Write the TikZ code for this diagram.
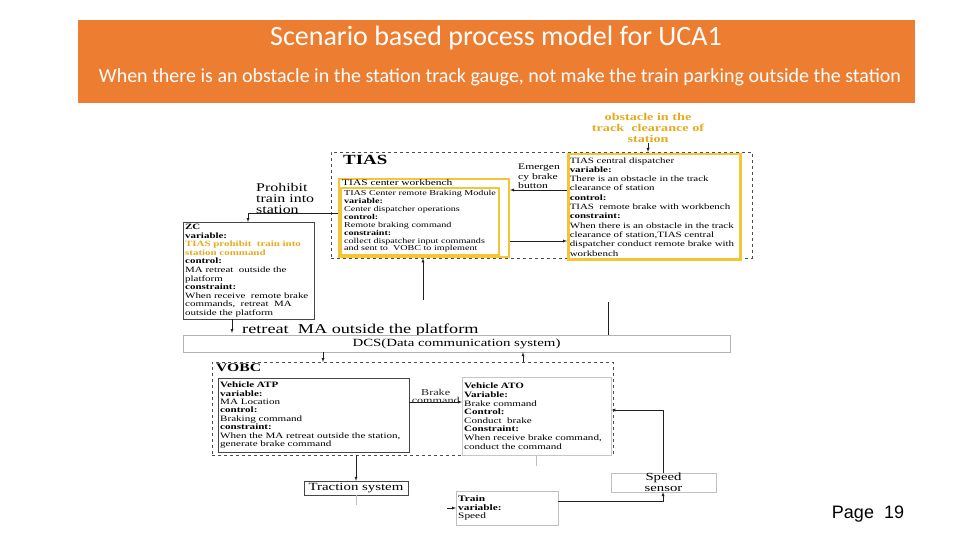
\documentclass[tikz,border=0pt]{standalone}
\usepackage{fontspec}
\setmainfont{Liberation Serif}[FakeStretch=1.35]
\newfontfamily\slidefont{Carlito}
\newfontfamily\pagefont{Liberation Sans}
\usetikzlibrary{positioning}

\definecolor{bannerorange}{HTML}{ED7D31}
\definecolor{boxyellow}{HTML}{F5C535}
\definecolor{goldtext}{HTML}{E8AA1C}

\begin{document}
\begin{tikzpicture}[x=1pt,y=-1pt]
\def\specfont{\fontsize{8.2}{8.4}\selectfont}
\colorlet{line color}{gray!25!black}
\tikzset{
  every node/.style={inner sep=2pt},
  banner/.style={fill=bannerorange,minimum width=837pt,minimum height=83pt},
  group/.style={draw=gray!60!black,dashed,thin,minimum width=#1},
  yellowbox/.style={draw=boxyellow,line width=2.5pt,fill=white,anchor=north west,align=left},
  specbox/.style={draw=gray!55!black,thin,fill=white,anchor=north west,align=left,font=\specfont},
  plainbox/.style={draw=gray!55!black,thin,fill=white},
  tag/.style={align=left,anchor=north west,inner sep=0pt},
  arrow/.style={->,>=latex,line color,thin},
  link/.style={line color,thin},
  faint/.style={gray!50,thin}
}

\useasboundingbox (0,0) rectangle (960,540);

%HEADER
\node[banner] (BANNER) at (496.5,61.5) {};
\node[white,font=\slidefont\fontsize{28}{30}\selectfont] (TITLE) at (496,38) {Scenario based process model for UCA1};
\node[white,font=\slidefont\fontsize{20}{22}\selectfont] (SUBTITLE) at (500,77) {When there is an obstacle in the station track gauge, not make the train parking outside the station};

%TIAS
\node[goldtext,align=center,font=\bfseries\fontsize{10.5}{11.4}\selectfont,inner sep=0pt] (OBST) at (648,128)
  {obstacle in the\\track\ \ clearance of\\station};
\node[group=421pt,minimum height=106pt,anchor=north west] (TIAS) at (331,152) {};
\node[tag,font=\bfseries\fontsize{14}{14}\selectfont] (TIASLABEL) at (343,155) {TIAS};
\node[yellowbox,text width=169pt,minimum height=105pt,inner sep=1.5pt,font=\fontsize{8.1}{9.3}\selectfont] (DISP) at (567,153)
  {TIAS central dispatcher\\
   \textbf{variable:}\\
   There is an obstacle in the track\\
   clearance of station\\
   \textbf{control:}\\
   TIAS\ \ remote brake with workbench\\
   \textbf{constraint:}\\
   When there is an obstacle in the track\\
   clearance of station,TIAS central\\
   dispatcher conduct remote brake with\\
   workbench};
\node[yellowbox,minimum width=170pt,minimum height=78pt,line width=2pt] (WB) at (338,178) {};
\node[tag,font=\fontsize{8.5}{9}\selectfont] (WBTITLE) at (342,179) {TIAS center workbench};
\node[yellowbox,minimum width=158pt,minimum height=67pt,line width=2pt,font=\fontsize{7.5}{7.9}\selectfont] (BRM) at (340,187)
  {TIAS Center remote Braking Module\\
   \textbf{variable:}\\
   Center dispatcher operations\\
   \textbf{control:}\\
   Remote braking command\\
   \textbf{constraint:}\\
   collect dispatcher input commands\\
   and sent to\ \ VOBC to implement};
\node[tag,font=\fontsize{8.6}{9.5}\selectfont] (EMB) at (518,164) {Emergen\\cy brake\\button};

%ZC
\node[tag,font=\fontsize{11.8}{11.2}\selectfont] (PROH) at (256,183) {Prohibit\\train into\\station};
\node[specbox,text width=127pt,minimum height=96pt,font=\fontsize{8.1}{8.6}\selectfont] (ZC) at (183,222)
  {\textbf{ZC}\\
   \textbf{variable:}\\
   \textcolor{goldtext}{\textbf{TIAS prohibit\ \ train into}}\\
   \textcolor{goldtext}{\textbf{station command}}\\
   \textbf{control:}\\
   MA retreat\ \ outside the\\
   platform\\
   \textbf{constraint:}\\
   When receive\ \ remote brake\\
   commands,\ \ retreat\ \ MA\\
   outside the platform};
\node[font=\fontsize{13.5}{13.5}\selectfont,anchor=west,inner sep=0pt] (RETREAT) at (242,330) {retreat\ \ MA outside the platform};

%DCS
\node[plainbox,draw=gray!60,minimum width=547pt,minimum height=17pt,inner sep=0pt,font=\fontsize{11}{11}\selectfont] (DCS) at (456.5,343.5)
  {DCS(Data communication system)};

%VOBC
\node[group=401pt,minimum height=93pt,anchor=north west] (VOBC) at (212,362) {};
\node[tag,font=\bfseries\fontsize{11.6}{12}\selectfont] (VOBCLABEL) at (216,364) {VOBC};
\node[specbox,text width=187pt,minimum height=74pt] (ATP) at (218,378)
  {\textbf{Vehicle ATP}\\
   \textbf{variable:}\\
   MA Location\\
   \textbf{control:}\\
   Braking command\\
   \textbf{constraint:}\\
   When the MA retreat outside the station,\\
   generate brake command};
\node[specbox,draw=gray!45,text width=145pt,minimum height=78pt,font=\fontsize{8.2}{8.6}\selectfont] (ATO) at (462,377)
  {\textbf{Vehicle ATO}\\
   \textbf{Variable:}\\
   Brake command\\
   \textbf{Control:}\\
   Conduct\ \ brake\\
   \textbf{Constraint:}\\
   When receive brake command,\\
   conduct the command};

%PLANT
\node[plainbox,minimum width=104pt,minimum height=14pt,inner sep=0pt,font=\fontsize{11}{11}\selectfont] (TRAC) at (356,488) {Traction system};
\node[specbox,draw=gray!50,text width=98pt,minimum height=34pt,font=\fontsize{8.4}{8.6}\selectfont] (TRAIN) at (456,491)
  {\textbf{Train}\\\textbf{variable:}\\Speed};
\node[plainbox,draw=gray!50,minimum width=105pt,minimum height=17pt,inner sep=0pt,align=center,font=\fontsize{10.9}{11}\selectfont] (SENSOR) at (663.5,482.5) {Speed\\sensor};

%PAGE
\node[font=\pagefont\fontsize{18}{18}\selectfont] (PAGE) at (868,514) {Page\ \ 19};

%FREE ENDS
\coordinate (zc out) at (232,333);
\coordinate (tias in) at (423,300);
\coordinate (dcs stub) at (608,302);
\coordinate (trac stub) at (356,505);
\coordinate (ato stub) at (536,466);
\coordinate (train in) at (447,508);

%PATHS
\draw[arrow] (OBST.south) -- (OBST.south |- TIAS.north);
\draw[arrow] (DISP.west |- 0,190) -- (WB.east |- 0,190);
\draw[arrow] (WB.east |- 0,241) -- (DISP.west |- 0,241);
\draw[arrow] (WB.west |- 0,213) -| (ZC.north -| 248,0);
\draw[arrow] (ZC.south -| zc out) -- (zc out);
\draw[arrow] (tias in) -- (TIAS.south -| tias in);
\draw[link] (dcs stub) -- (DCS.north -| dcs stub);
\draw[arrow] (DCS.south -| 323,0) -- (VOBC.north -| 323,0);
\draw[arrow] (VOBC.north -| 523,0) -- (DCS.south -| 523,0);
\draw[arrow] (ATP.east |- 0,402) -- node[above=-2pt,align=center,inner sep=0pt,font=\fontsize{9}{8.5}\selectfont] {Brake\\command} (ATO.west |- 0,402);
\draw[arrow] (SENSOR.north -| 663,0) |- (ATO.east |- 0,410);
\draw[arrow] (TRAIN.east |- 0,501) -| (SENSOR.south -| 663,0);
\draw[arrow] (VOBC.south -| 356,0) -- (TRAC.north -| 356,0);
\draw[faint] (TRAC.south -| trac stub) -- (trac stub);
\draw[faint] (ATO.south -| ato stub) -- (ato stub);
\draw[arrow] (train in) -- (TRAIN.west |- train in);

\end{tikzpicture}
\end{document}
